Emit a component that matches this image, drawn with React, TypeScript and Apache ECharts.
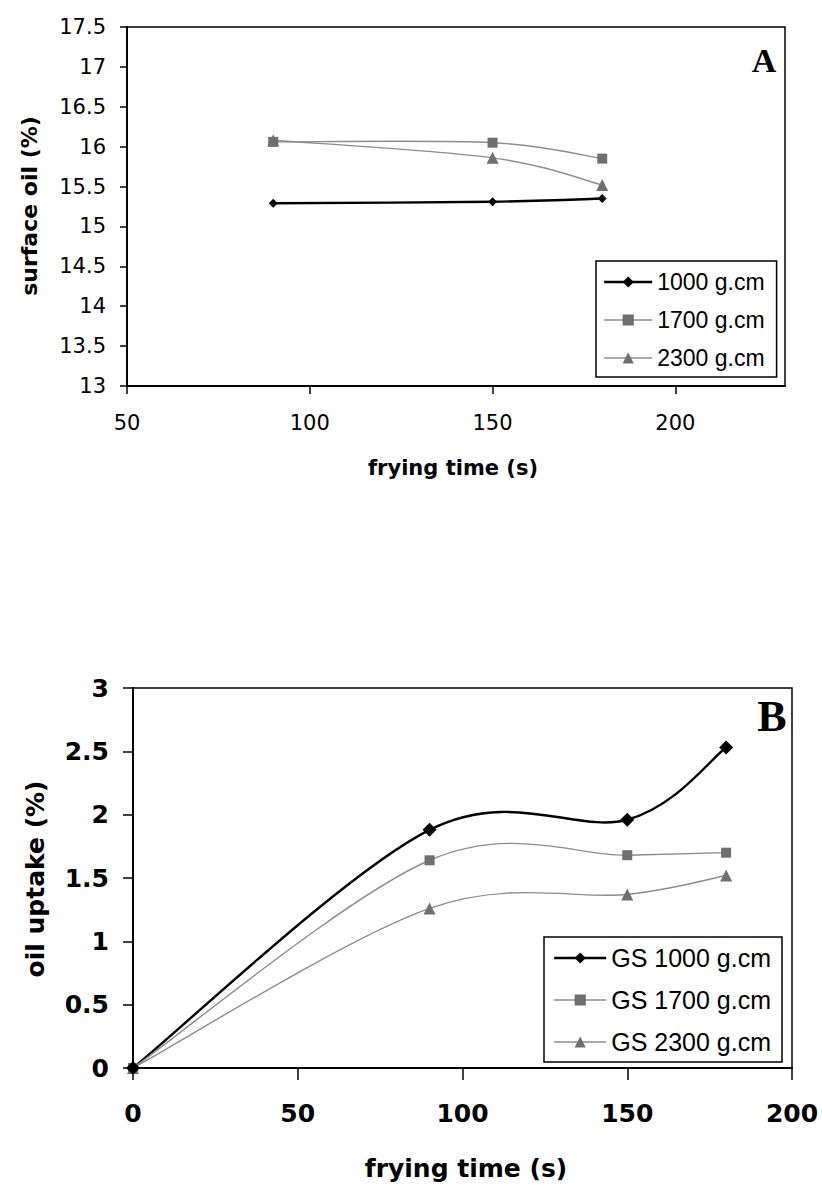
import React, { useEffect, useRef } from "react";
import * as echarts from "echarts";

// Chart A: surface oil vs frying time
const timeA = [90, 150, 180];
const surf1000 = [15.29, 15.31, 15.35];
const surf1700 = [16.06, 16.05, 15.85];
const surf2300 = [16.08, 15.86, 15.52];
const namesA = ["1000 g.cm", "1700 g.cm", "2300 g.cm"];

// Chart B: oil uptake vs frying time
const timeB = [0, 90, 150, 180];
const up1000 = [0, 1.88, 1.96, 2.53];
const up1700 = [0, 1.64, 1.68, 1.7];
const up2300 = [0, 1.26, 1.37, 1.52];
const namesB = ["GS 1000 g.cm", "GS 1700 g.cm", "GS 2300 g.cm"];

const pair = (xs: number[], ys: number[]) => xs.map((x, i) => [x, ys[i]]);

const SANS = "DejaVu Sans, sans-serif";

// Spreadsheet-style smoothed line (Catmull-Rom, tension 1/6) in pixel space
function smoothPath(pts: number[][]) {
  let d = `M${pts[0][0]} ${pts[0][1]}`;
  const n = pts.length;
  for (let i = 0; i < n - 1; i++) {
    const p0 = pts[Math.max(0, i - 1)];
    const p1 = pts[i];
    const p2 = pts[i + 1];
    const p3 = pts[Math.min(n - 1, i + 2)];
    const c1x = p1[0] + (p2[0] - p0[0]) / 6;
    const c1y = p1[1] + (p2[1] - p0[1]) / 6;
    const c2x = p2[0] - (p3[0] - p1[0]) / 6;
    const c2y = p2[1] - (p3[1] - p1[1]) / 6;
    d += ` C${c1x} ${c1y} ${c2x} ${c2y} ${p2[0]} ${p2[1]}`;
  }
  return d;
}

export default function App() {
  const ref = useRef<HTMLDivElement>(null);
  useEffect(() => {
    document.body.style.margin = "0";
    const chart = echarts.init(ref.current!, null, { renderer: "svg" });
    const styles = [
      { line: "#000000", mark: "#000000", width: 2.4, symbol: "diamond" },
      { line: "#8c8c8c", mark: "#6f6f6f", width: 1.4, symbol: "rect" },
      { line: "#8c8c8c", mark: "#6f6f6f", width: 1.4, symbol: "triangle" },
    ];
    const sizesA = [9, 10, 12];
    const sizesB = [14, 10, 12];
    const dataA = [surf1000, surf1700, surf2300];
    const dataB = [up1000, up1700, up2300];
    const series: any[] = [];
    const addSet = (names: string[], xs: number[], data: number[][], gi: number, sizes: number[]) => {
      names.forEach((n, i) => {
        const ys = data[i];
        series.push({
          type: "custom",
          name: n + " curve",
          xAxisIndex: gi,
          yAxisIndex: gi,
          data: pair(xs, ys),
          silent: true,
          z: 2,
          renderItem: (params: any, api: any) => {
            if (params.dataIndex !== 0) return null;
            const pts = xs.map((x, k) => api.coord([x, ys[k]]));
            return {
              type: "path",
              shape: { pathData: smoothPath(pts) },
              style: { stroke: styles[i].line, lineWidth: styles[i].width, fill: "none" },
            };
          },
        });
        series.push({
          type: "line",
          name: n,
          xAxisIndex: gi,
          yAxisIndex: gi,
          data: pair(xs, ys),
          symbol: styles[i].symbol,
          symbolSize: sizes[i],
          itemStyle: { color: styles[i].mark },
          lineStyle: { color: styles[i].line, width: styles[i].width, opacity: 0 },
          z: 5 - i,
        });
      });
    };
    addSet(namesA, timeA, dataA, 0, sizesA);
    addSet(namesB, timeB, dataB, 1, sizesB);

    const legendData = (names: string[]) =>
      names.map((n, i) => ({ name: n, lineStyle: { color: styles[i].line, width: styles[i].width, opacity: 1 } }));

    const axisLine = { show: true, lineStyle: { color: "#000", width: 2 } };
    chart.setOption({
      animation: false,
      backgroundColor: "#ffffff",
      grid: [
        { left: 127, top: 27, width: 658, height: 359, show: true, borderColor: "#000", borderWidth: 1.5, backgroundColor: "transparent" },
        { left: 133, top: 688, width: 659, height: 380, show: true, borderColor: "#000", borderWidth: 1.5, backgroundColor: "transparent" },
      ],
      xAxis: [
        {
          type: "value", gridIndex: 0, min: 50, max: 230, interval: 50,
          axisLine, splitLine: { show: false },
          axisTick: { show: true, inside: false, length: 8, lineStyle: { color: "#000", width: 1.5 } },
          axisLabel: { margin: 26, fontSize: 21, color: "#000", fontFamily: SANS, showMaxLabel: false },
        },
        {
          type: "value", gridIndex: 1, min: 0, max: 200, interval: 50,
          axisLine, splitLine: { show: false },
          axisTick: { show: true, inside: false, length: 12, lineStyle: { color: "#000", width: 1.5 } },
          axisLabel: { margin: 33, fontSize: 25, fontWeight: "bold", color: "#000", fontFamily: SANS },
        },
      ],
      yAxis: [
        {
          type: "value", gridIndex: 0, min: 13, max: 17.5, interval: 0.5,
          axisLine, splitLine: { show: false },
          axisTick: { show: true, inside: false, length: 7, lineStyle: { color: "#000", width: 1.5 } },
          axisLabel: { margin: 21, fontSize: 21, color: "#000", fontFamily: SANS },
        },
        {
          type: "value", gridIndex: 1, min: 0, max: 3, interval: 0.5,
          axisLine, splitLine: { show: false },
          axisTick: { show: true, inside: false, length: 10, lineStyle: { color: "#000", width: 1.5 } },
          axisLabel: { margin: 24, fontSize: 25, fontWeight: "bold", color: "#000", fontFamily: SANS },
        },
      ],
      legend: [
        {
          data: legendData(namesA),
          orient: "vertical",
          left: 596,
          top: 261,
          itemWidth: 48,
          itemHeight: 14,
          itemGap: 12,
          padding: [8, 12, 6, 7],
          borderColor: "#000",
          borderWidth: 1.5,
          backgroundColor: "#fff",
          textStyle: { fontSize: 23, lineHeight: 26, color: "#000", fontFamily: "Liberation Sans, Arial, sans-serif" },
        },
        {
          data: legendData(namesB),
          orient: "vertical",
          left: 544,
          top: 937,
          itemWidth: 52,
          itemHeight: 14,
          itemGap: 14,
          padding: [7, 11, 6, 9],
          borderColor: "#000",
          borderWidth: 1.5,
          backgroundColor: "#fff",
          textStyle: { fontSize: 25, lineHeight: 28, color: "#000", fontFamily: "Liberation Sans, Arial, sans-serif" },
        },
      ],
      graphic: [
        { type: "text", x: 764, y: 60, style: { text: "A", font: "bold 34px 'Liberation Serif', serif", fill: "#000", align: "center", verticalAlign: "middle" } },
        { type: "text", x: 772, y: 716, style: { text: "B", font: "bold 44px 'Liberation Serif', serif", fill: "#000", align: "center", verticalAlign: "middle" } },
        { type: "text", x: 29, y: 206, rotation: Math.PI / 2, style: { text: "surface oil (%)", font: "bold 22px 'DejaVu Sans', sans-serif", fill: "#000", align: "center", verticalAlign: "middle" } },
        { type: "text", x: 453, y: 468, style: { text: "frying time (s)", font: "bold 21px 'DejaVu Sans', sans-serif", fill: "#000", align: "center", verticalAlign: "middle" } },
        { type: "text", x: 35, y: 879, rotation: Math.PI / 2, style: { text: "oil uptake (%)", font: "bold 25px 'DejaVu Sans', sans-serif", fill: "#000", align: "center", verticalAlign: "middle" } },
        { type: "text", x: 466, y: 1168, style: { text: "frying time (s)", font: "bold 25px 'DejaVu Sans', sans-serif", fill: "#000", align: "center", verticalAlign: "middle" } },
      ],
      series,
    });
    return () => chart.dispose();
  }, []);
  return <div ref={ref} style={{ width: 822, height: 1189 }} />;
}
